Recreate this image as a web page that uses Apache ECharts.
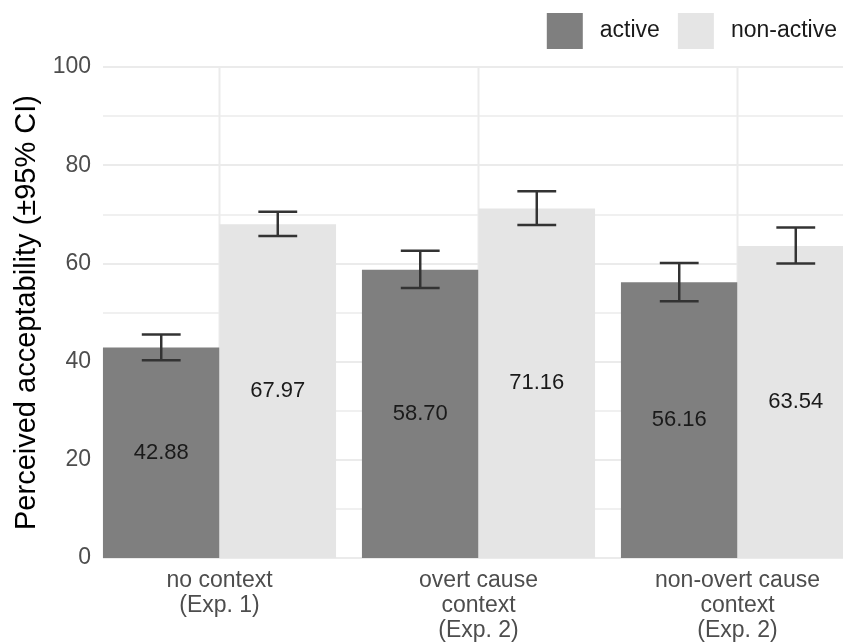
<!DOCTYPE html>
<html>
<head>
<meta charset="utf-8">
<script src="https://cdn.jsdelivr.net/npm/echarts@6/dist/echarts.min.js"></script>
<style>
html, body { margin: 0; padding: 0; background: #ffffff; }
#chart { width: 843px; height: 643px; }
</style>
</head>
<body>
<div id="chart"></div>
<script>
// ---- data ----
const categories = ['no context\n(Exp. 1)', 'overt cause\ncontext\n(Exp. 2)', 'non-overt cause\ncontext\n(Exp. 2)'];
const seriesNames = ['active', 'non-active'];
const activeValues = [42.88, 58.70, 56.16];
const nonActiveValues = [67.97, 71.16, 63.54];
const activeLower = [40.3, 55.0, 52.3];
const activeUpper = [45.5, 62.6, 60.1];
const nonActiveLower = [65.6, 67.8, 60.0];
const nonActiveUpper = [70.5, 74.7, 67.3];
const yMin = 0, yMax = 100, yInterval = 20;
const yTitle = 'Perceived acceptability (±95% CI)';

// ---- helpers ----
const FONT = "'Liberation Sans', Arial, Helvetica, sans-serif";
function errData(lo, hi) { return categories.map((c, i) => [i, lo[i], hi[i]]); }
function errRender(sign) {
  return function (params, api) {
    const i = api.value(0);
    const band = api.size([1, 0])[0];
    const cx = api.coord([i, 0])[0] + sign * 0.225 * band;
    const yLo = api.coord([i, api.value(1)])[1];
    const yHi = api.coord([i, api.value(2)])[1];
    const hw = 0.075 * band;
    const st = { stroke: '#333333', lineWidth: 2.5 };
    return {
      type: 'group',
      children: [
        { type: 'line', shape: { x1: cx, y1: yLo, x2: cx, y2: yHi }, style: st },
        { type: 'line', shape: { x1: cx - hw, y1: yHi, x2: cx + hw, y2: yHi }, style: st },
        { type: 'line', shape: { x1: cx - hw, y1: yLo, x2: cx + hw, y2: yLo }, style: st }
      ]
    };
  };
}

const chart = echarts.init(document.getElementById('chart'), null, { renderer: 'canvas' });
const option = {
  animation: false,
  backgroundColor: '#ffffff',
  textStyle: { fontFamily: FONT },
  legend: {
    data: seriesNames,
    right: 1, top: 8,
    icon: 'rect',
    itemWidth: 36, itemHeight: 36, itemGap: 18,
    textStyle: { fontSize: 23, color: '#1a1a1a', fontFamily: FONT, padding: [0, 0, 0, 12] }
  },
  grid: [
    { left: 103, right: 0, top: 67, bottom: 85, outerBoundsMode: 'none', containLabel: false },
    { left: 90, width: 777, top: 67, bottom: 85, outerBoundsMode: 'none', containLabel: false }
  ],
  xAxis: [
    { gridIndex: 0, type: 'value', show: false, min: 0, max: 1 },
    {
      gridIndex: 1, type: 'category', data: categories,
      axisLine: { show: false }, axisTick: { show: false }, splitLine: { show: false },
      axisLabel: { fontSize: 23, color: '#4d4d4d', lineHeight: 25, margin: 10, fontFamily: FONT, interval: 0 }
    }
  ],
  yAxis: [
    {
      gridIndex: 0, type: 'value', min: yMin, max: yMax, interval: yInterval,
      name: yTitle, nameLocation: 'middle', nameGap: 58, nameRotate: 90,
      nameTextStyle: { fontSize: 29, color: '#000000', fontFamily: FONT },
      axisLine: { show: false }, axisTick: { show: false },
      axisLabel: { fontSize: 23, color: '#4d4d4d', margin: 12, fontFamily: FONT },
      splitLine: { show: true, lineStyle: { color: '#ebebeb', width: 2 } },
      minorTick: { show: false, splitNumber: 2 },
      minorSplitLine: { show: true, lineStyle: { color: '#ebebeb', width: 1.5 } }
    },
    { gridIndex: 1, type: 'value', min: yMin, max: yMax, show: false }
  ],
  series: [
    {
      name: 'vgrid', type: 'custom', xAxisIndex: 1, yAxisIndex: 1, silent: true, z: 1,
      data: categories.map((c, i) => [i]),
      renderItem: function (params, api) {
        const i = api.value(0);
        const p0 = api.coord([i, yMin]);
        const p1 = api.coord([i, yMax]);
        return { type: 'line', shape: { x1: p0[0], y1: p0[1], x2: p1[0], y2: p1[1] }, style: { stroke: '#ebebeb', lineWidth: 2 } };
      }
    },
    {
      name: 'active', type: 'bar', xAxisIndex: 1, yAxisIndex: 1, z: 2,
      data: activeValues, barWidth: '45%', barGap: '0%',
      itemStyle: { color: '#7f7f7f' },
      label: { show: true, position: 'inside', fontSize: 22, color: '#1a1a1a', fontFamily: FONT,
        formatter: p => Number(p.value).toFixed(2) }
    },
    {
      name: 'non-active', type: 'bar', xAxisIndex: 1, yAxisIndex: 1, z: 2,
      data: nonActiveValues, barWidth: '45%', barGap: '0%',
      itemStyle: { color: '#e5e5e5' },
      label: { show: true, position: 'inside', fontSize: 22, color: '#1a1a1a', fontFamily: FONT,
        formatter: p => Number(p.value).toFixed(2) }
    },
    {
      name: 'active CI', type: 'custom', xAxisIndex: 1, yAxisIndex: 1, z: 3, silent: true,
      data: errData(activeLower, activeUpper), encode: { x: 0, y: [1, 2] },
      renderItem: errRender(-1)
    },
    {
      name: 'non-active CI', type: 'custom', xAxisIndex: 1, yAxisIndex: 1, z: 3, silent: true,
      data: errData(nonActiveLower, nonActiveUpper), encode: { x: 0, y: [1, 2] },
      renderItem: errRender(1)
    }
  ]
};
chart.setOption(option);
</script>
</body>
</html>
